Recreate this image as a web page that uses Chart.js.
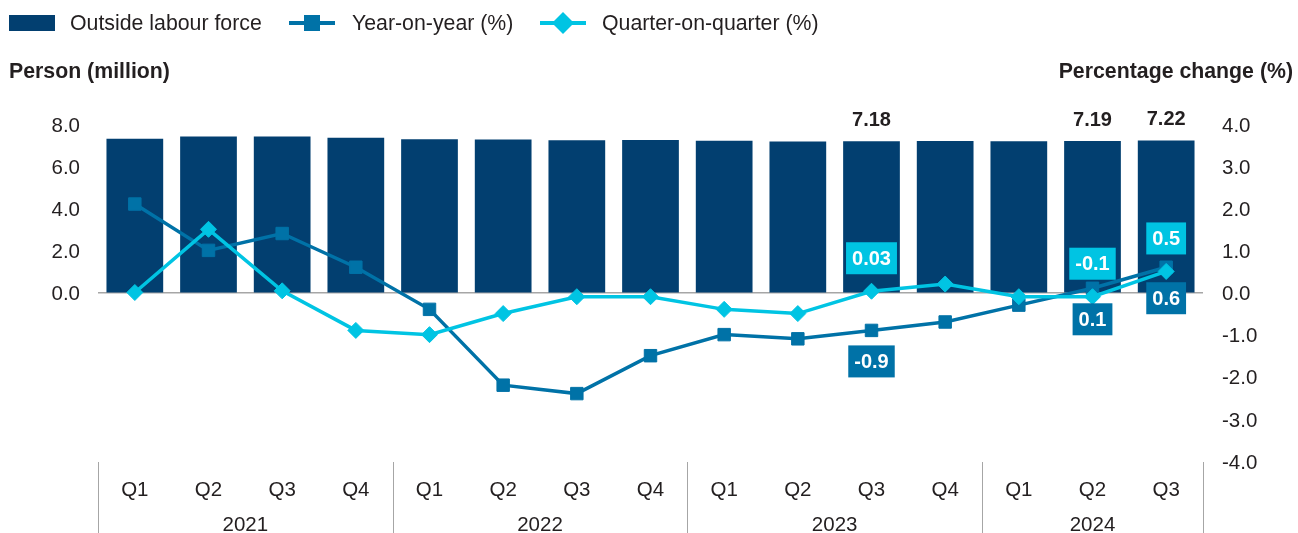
<!DOCTYPE html>
<html>
<head>
<meta charset="utf-8">
<script src="https://cdn.jsdelivr.net/npm/chart.js@4.4.1/dist/chart.umd.min.js"></script>
<style>
  html, body { margin: 0; padding: 0; background: #ffffff; }
  canvas { display: block; }
</style>
</head>
<body>
<canvas id="chart" width="1298" height="533"></canvas>
<script>
// Quarterly labels, grouped by year
const quarters = ['Q1', 'Q2', 'Q3', 'Q4', 'Q1', 'Q2', 'Q3', 'Q4', 'Q1', 'Q2', 'Q3', 'Q4', 'Q1', 'Q2', 'Q3'];
const years = ['2021', '2022', '2023', '2024'];
const quartersPerYear = [4, 4, 4, 3];

// Persons outside the labour force (million)
const outsideLabourForce = [7.30, 7.41, 7.41, 7.35, 7.28, 7.26, 7.23, 7.24, 7.20, 7.17, 7.18, 7.19, 7.18, 7.19, 7.22];
// Percentage changes
const yearOnYear = [2.1, 1.0, 1.4, 0.6, -0.4, -2.2, -2.4, -1.5, -1.0, -1.1, -0.9, -0.7, -0.3, 0.1, 0.6];
const quarterOnQuarter = [0.0, 1.5, 0.04, -0.9, -1.0, -0.5, -0.1, -0.1, -0.4, -0.5, 0.03, 0.2, -0.1, -0.1, 0.5];

// Axis ranges
const leftAxis = { min: -8, max: 8, step: 2 };
const rightAxis = { min: -4, max: 4, step: 1 };

// Points that carry a value label
const labelledIndices = [10, 13, 14];

const NAVY = '#023f70';
const TEAL = '#0072a7';
const CYAN = '#00c4e3';
const TEXT = '#231f20';
const GREY = '#a6a6a6';
const FONT = '"Liberation Sans", Arial, Helvetica, sans-serif';

function drawDiamond(ctx, x, y, r) {
  ctx.beginPath();
  ctx.moveTo(x - r, y);
  ctx.lineTo(x, y - r);
  ctx.lineTo(x + r, y);
  ctx.lineTo(x, y + r);
  ctx.closePath();
  ctx.fill();
}

const decorations = {
  id: 'decorations',
  afterDatasetsDraw(chart) {
    const ctx = chart.ctx;
    const barMeta = chart.getDatasetMeta(2);
    const yoyMeta = chart.getDatasetMeta(1);
    const qoqMeta = chart.getDatasetMeta(0);
    ctx.save();
    ctx.font = 'bold 20px ' + FONT;
    ctx.textAlign = 'center';
    ctx.textBaseline = 'middle';
    labelledIndices.forEach(i => {
      // bar value above the bar
      const bar = barMeta.data[i];
      ctx.fillStyle = TEXT;
      ctx.fillText(String(outsideLabourForce[i]), bar.x, bar.y - 21);

      // quarter-on-quarter box above the point
      const q = qoqMeta.data[i];
      const qt = String(quarterOnQuarter[i]);
      const qw = ctx.measureText(qt).width + 12;
      ctx.fillStyle = CYAN;
      ctx.fillRect(q.x - qw / 2, q.y - 17 - 32, qw, 32);
      ctx.fillStyle = '#ffffff';
      ctx.fillText(qt, q.x, q.y - 17 - 16 + 1);

      // year-on-year box below the point
      const p = yoyMeta.data[i];
      const pt = String(yearOnYear[i]);
      const pw = ctx.measureText(pt).width + 12;
      ctx.fillStyle = TEAL;
      ctx.fillRect(p.x - pw / 2, p.y + 15, pw, 32);
      ctx.fillStyle = '#ffffff';
      ctx.fillText(pt, p.x, p.y + 15 + 16 + 1);
    });
    ctx.restore();
  },
  afterDraw(chart) {
    const ctx = chart.ctx;
    const x = chart.scales.x;
    const area = chart.chartArea;
    const half = (x.getPixelForValue(1) - x.getPixelForValue(0)) / 2;
    ctx.save();

    // year separators and year labels
    ctx.strokeStyle = GREY;
    ctx.lineWidth = 1;
    ctx.fillStyle = TEXT;
    ctx.font = '20.5px ' + FONT;
    ctx.textAlign = 'center';
    ctx.textBaseline = 'middle';
    let start = 0;
    const sep = px => {
      const sx = Math.round(px) + 0.5;
      ctx.beginPath();
      ctx.moveTo(sx, area.bottom + 1);
      ctx.lineTo(sx, chart.height);
      ctx.stroke();
    };
    years.forEach((yr, k) => {
      const end = start + quartersPerYear[k] - 1;
      sep(x.getPixelForValue(start) - half);
      ctx.fillText(yr, (x.getPixelForValue(start) + x.getPixelForValue(end)) / 2, 525);
      start = end + 1;
    });
    sep(x.getPixelForValue(start - 1) + half);

    // axis titles
    ctx.font = 'bold 21.3px ' + FONT;
    ctx.textAlign = 'left';
    ctx.fillText('Person (million)', 9, 72);
    ctx.textAlign = 'right';
    ctx.fillText('Percentage change (%)', 1293, 72);

    // legend
    const ly = 23;
    ctx.font = '21.3px ' + FONT;
    ctx.textAlign = 'left';
    ctx.fillStyle = NAVY;
    ctx.fillRect(9, 15, 46, 16);
    ctx.fillStyle = TEXT;
    ctx.fillText(chart.data.datasets[2].label, 70, ly + 1);

    ctx.strokeStyle = TEAL;
    ctx.lineWidth = 4;
    ctx.beginPath();
    ctx.moveTo(289, ly);
    ctx.lineTo(335, ly);
    ctx.stroke();
    ctx.fillStyle = TEAL;
    ctx.fillRect(304, ly - 8, 16, 16);
    ctx.fillStyle = TEXT;
    ctx.fillText(chart.data.datasets[1].label, 352, ly + 1);

    ctx.strokeStyle = CYAN;
    ctx.beginPath();
    ctx.moveTo(540, ly);
    ctx.lineTo(586, ly);
    ctx.stroke();
    ctx.fillStyle = CYAN;
    drawDiamond(ctx, 563, ly, 11);
    ctx.fillStyle = TEXT;
    ctx.fillText(chart.data.datasets[0].label, 602, ly + 1);

    ctx.restore();
  }
};

const tickFont = { family: FONT, size: 20.5 };

new Chart(document.getElementById('chart'), {
  data: {
    labels: quarters,
    datasets: [
      {
        type: 'line',
        label: 'Quarter-on-quarter (%)',
        data: quarterOnQuarter,
        yAxisID: 'yR',
        borderColor: CYAN,
        backgroundColor: CYAN,
        borderWidth: 3.5,
        pointStyle: 'rectRot',
        pointRadius: 8,
        pointBorderWidth: 1,
        tension: 0,
        order: 0
      },
      {
        type: 'line',
        label: 'Year-on-year (%)',
        data: yearOnYear,
        yAxisID: 'yR',
        borderColor: TEAL,
        backgroundColor: TEAL,
        borderWidth: 3.5,
        pointStyle: 'rect',
        pointRadius: 8.8,
        pointBorderWidth: 1,
        tension: 0,
        order: 1
      },
      {
        type: 'bar',
        label: 'Outside labour force',
        data: outsideLabourForce,
        yAxisID: 'yL',
        backgroundColor: NAVY,
        barPercentage: 0.77,
        categoryPercentage: 1,
        order: 2
      }
    ]
  },
  options: {
    responsive: false,
    animation: false,
    devicePixelRatio: 1,
    layout: { padding: { top: 124, left: 0, right: 0, bottom: 0 } },
    plugins: { legend: { display: false }, tooltip: { enabled: false } },
    scales: {
      x: {
        type: 'category',
        offset: true,
        grid: { display: false, drawTicks: false },
        border: { display: false },
        ticks: { font: tickFont, color: TEXT, padding: 17, maxRotation: 0, autoSkip: false },
        afterFit(s) { s.height = 72; }
      },
      yL: {
        position: 'left',
        min: leftAxis.min,
        max: leftAxis.max,
        grid: { display: false, drawTicks: false },
        border: { display: false },
        ticks: {
          stepSize: leftAxis.step,
          font: tickFont,
          color: TEXT,
          padding: 18,
          labelOffset: 2,
          callback: v => (v >= 0 ? v.toFixed(1) : '')
        },
        afterFit(s) { s.width = 98; }
      },
      yR: {
        position: 'right',
        min: rightAxis.min,
        max: rightAxis.max,
        grid: {
          drawTicks: false,
          lineWidth: 1.5,
          color: c => (c.tick && c.tick.value === 0 ? GREY : 'rgba(0,0,0,0)')
        },
        border: { display: false },
        ticks: {
          stepSize: rightAxis.step,
          font: tickFont,
          color: TEXT,
          padding: 19,
          labelOffset: 2,
          callback: v => v.toFixed(1)
        },
        afterFit(s) { s.width = 95; }
      }
    }
  },
  plugins: [decorations]
});
</script>
</body>
</html>
